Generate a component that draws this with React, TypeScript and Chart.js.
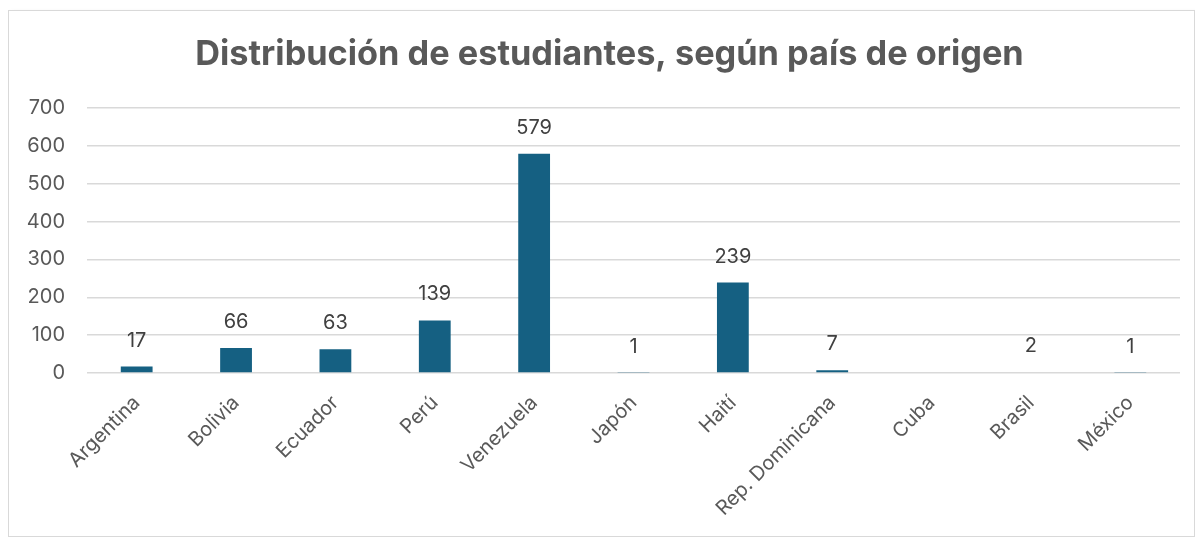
import React, { useEffect, useRef } from "react";
import { Chart, registerables } from "chart.js";

Chart.register(...registerables);

const categories = [
  "Argentina",
  "Bolivia",
  "Ecuador",
  "Perú",
  "Venezuela",
  "Japón",
  "Haití",
  "Rep. Dominicana",
  "Cuba",
  "Brasil",
  "México",
];
const students: (number | null)[] = [17, 66, 63, 139, 579, 1, 239, 7, null, 2, 1];
const titleText = "Distribución de estudiantes, según país de origen";
const yMax = 700;
const yStep = 100;

const FONT = "Inter, 'Liberation Sans', Arial, sans-serif";

const dataLabels = {
  id: "dataLabels",
  afterDatasetsDraw(chart: any) {
    const ctx = chart.ctx;
    const meta = chart.getDatasetMeta(0);
    ctx.save();
    ctx.font = `20px ${FONT}`;
    ctx.fillStyle = "#404040";
    ctx.textAlign = "center";
    ctx.textBaseline = "middle";
    meta.data.forEach((bar: any, i: number) => {
      const v = chart.data.datasets[0].data[i];
      if (v === null || v === undefined) return;
      ctx.fillText(String(v), bar.x, bar.y - 26);
    });
    ctx.restore();
  },
};

const chartTitle = {
  id: "chartTitle",
  afterDraw(chart: any) {
    const ctx = chart.ctx;
    ctx.save();
    ctx.font = `bold 34.3px ${FONT}`;
    ctx.fillStyle = "#595959";
    ctx.textAlign = "center";
    ctx.textBaseline = "alphabetic";
    ctx.fillText(titleText, chart.width / 2 + 8, 54);
    ctx.restore();
  },
};

export default function App() {
  const ref = useRef<HTMLCanvasElement>(null);
  useEffect(() => {
    if (!ref.current) return;
    const chart = new Chart(ref.current, {
      type: "bar",
      data: {
        labels: categories,
        datasets: [
          {
            data: students,
            backgroundColor: "#156082",
            barPercentage: 0.32,
            categoryPercentage: 1,
          },
        ],
      },
      options: {
        animation: false,
        responsive: true,
        maintainAspectRatio: false,
        layout: { padding: { left: 10, right: 14, top: 97, bottom: 0 } },
        plugins: {
          legend: { display: false },
          tooltip: { enabled: false },
          title: { display: false },
        },
        scales: {
          x: {
            grid: { display: false, drawTicks: false },
            border: { display: false },
            ticks: {
              color: "#595959",
              font: { family: FONT, size: 20 },
              maxRotation: 45,
              minRotation: 45,
              padding: 18,
              autoSkip: false,
            },
            afterFit(scale: any) {
              scale.height = 163;
            },
          },
          y: {
            min: 0,
            max: yMax,
            grid: { color: "#d9d9d9", lineWidth: 1.5, drawTicks: false },
            border: { display: false },
            ticks: {
              stepSize: yStep,
              color: "#595959",
              font: { family: FONT, size: 20 },
              padding: 22,
            },
            afterFit(scale: any) {
              scale.width = 68;
            },
          },
        },
      },
      plugins: [dataLabels, chartTitle],
    });
    return () => chart.destroy();
  }, []);

  return (
    <div
      style={{
        marginTop: 2,
        width: 1185,
        height: 525,
        border: "1px solid #d9d9d9",
        boxShadow: "4px 5px 6px rgba(0,0,0,0.4)",
        background: "#fff",
        position: "relative",
      }}
    >
      <canvas ref={ref} />
    </div>
  );
}
